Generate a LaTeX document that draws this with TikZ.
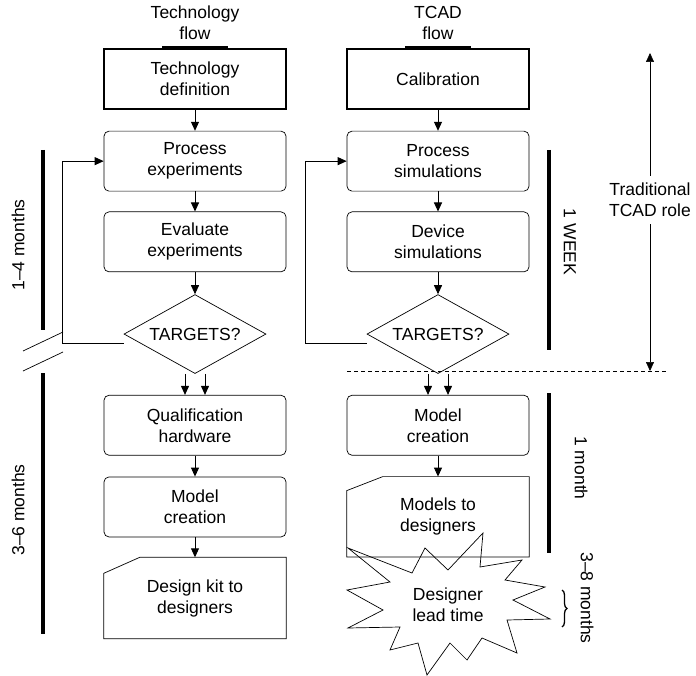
\documentclass[tikz,border=0pt]{standalone}
\usepackage{fontspec}
\setmainfont{Liberation Sans}
\usetikzlibrary{arrows.meta,positioning,shapes.geometric,decorations.pathreplacing}
\tikzset{
  stepbox/.style={draw,rounded corners=5pt,line width=.7pt,minimum width=182pt,
              minimum height=60pt,inner sep=2pt,align=center},
  startbox/.style={draw,line width=1.6pt,minimum width=182pt,minimum height=60pt,
              inner sep=2pt,align=center},
  decide/.style={draw,diamond,aspect=1.8,line width=.7pt,minimum width=142pt,
              minimum height=79pt,inner sep=0pt},
  cardbox/.style={minimum width=182pt,inner sep=2pt,align=center},
  flowarrow/.style={-{Triangle[length=9pt,width=8pt]},line width=.9pt},
  timebar/.style={line width=3.6pt},
  titlebar/.style={line width=3pt},
  thinline/.style={line width=.7pt},
}

\begin{document}
\begin{tikzpicture}[x=1pt,y=-1pt,font=\fontsize{17.5}{21}\selectfont,node distance=21pt]
  \fill[white] (0,0) rectangle (696,676);
  \useasboundingbox (0,0) rectangle (696,676);

  % technology flow
  \node[align=center] (ttech) at (195,23) {Technology\\flow};
  \node[startbox] (deftech) at (195,79) {Technology\\definition};
  \node[stepbox,below=of deftech] (proctech) {Process\\experiments};
  \node[stepbox,below=20pt of proctech] (evaltech) {Evaluate\\experiments};
  \node[decide,below=22pt of evaltech] (tgtech) {TARGETS?};
  \node[stepbox,below=of tgtech] (qualtech) {Qualification\\hardware};
  \node[stepbox,below=of qualtech] (modtech) {Model\\creation};
  \node[cardbox,minimum height=81pt,below=20pt of modtech] (kittech) {Design kit to\\designers};
  \draw[thinline] (kittech.south west) -- (kittech.south east) -- (kittech.north east)
    -- ([xshift=36pt]kittech.north west) -- ([yshift=-16pt]kittech.north west) -- cycle;
  \draw[titlebar] ([xshift=-33pt,yshift=1pt]deftech.north) -- ([xshift=33pt,yshift=1pt]deftech.north);

  % TCAD flow
  \node[align=center] (ttcad) at (438,23) {TCAD\\flow};
  \node[startbox] (calib) at (438,79) {Calibration};
  \node[stepbox,below=of calib] (procsim) {Process\\simulations};
  \node[stepbox,below=20pt of procsim] (devsim) {Device\\simulations};
  \node[decide,below=22pt of devsim] (tgtcad) {TARGETS?};
  \node[stepbox,below=of tgtcad] (modtcad) {Model\\creation};
  \node[cardbox,minimum height=80pt,below=of modtcad] (mtd) {Models to\\designers};
  \draw[thinline] (mtd.south west) -- (mtd.south east) -- (mtd.north east)
    -- ([xshift=36pt]mtd.north west) -- ([yshift=-14pt]mtd.north west) -- cycle;
  \draw[titlebar] ([xshift=-33pt,yshift=1pt]calib.north) -- ([xshift=33pt,yshift=1pt]calib.north);

  % arrows
  \draw[flowarrow] (deftech) -- (proctech);
  \draw[flowarrow] (proctech) -- (evaltech);
  \draw[flowarrow] (evaltech) -- (tgtech);
  \draw[flowarrow] ([xshift=-10pt]tgtech.south) -- ([xshift=-10pt]qualtech.north);
  \draw[flowarrow] ([xshift=10pt]tgtech.south) -- ([xshift=10pt]qualtech.north);
  \draw[flowarrow] (qualtech) -- (modtech);
  \draw[flowarrow] (modtech) -- (kittech);
  \draw[flowarrow] ([yshift=-9pt]tgtech.west) -| ([xshift=-41pt]proctech.west) -- (proctech.west);
  \draw[flowarrow] (calib) -- (procsim);
  \draw[flowarrow] (procsim) -- (devsim);
  \draw[flowarrow] (devsim) -- (tgtcad);
  \draw[flowarrow] ([xshift=-10pt]tgtcad.south) -- ([xshift=-10pt]modtcad.north);
  \draw[flowarrow] ([xshift=10pt]tgtcad.south) -- ([xshift=10pt]modtcad.north);
  \draw[flowarrow] (modtcad) -- (mtd);
  \draw[flowarrow] ([yshift=-9pt]tgtcad.west) -| ([xshift=-41pt]procsim.west) -- (procsim.west);

  % time scales
  \draw[timebar] (43,150) -- (43,330);
  \draw[timebar] (43,373) -- (43,634);
  \draw[thinline] (23,351) -- (63,332);
  \draw[thinline] (23,371) -- (63,352);
  \node[rotate=90] (t14) at (18,245) {1–4 months};
  \node[rotate=90] (t36) at (18,510) {3–6 months};
  \draw[timebar] (549,150) -- (549,350);
  \draw[timebar] (549,393) -- (549,553);
  \node[rotate=-90] (t1w) at (570,242) {1 WEEK};
  \node[rotate=-90] (t1m) at (581,468) {1 month};
  \node[rotate=-90] (t38) at (587,598) {3–8 months};
  \draw[decorate,decoration={brace,amplitude=5pt},line width=1.3pt] (562,590) -- (562,627);

  % traditional role
  \draw[thinline,dash pattern=on 4pt off 3pt] (347,371) -- (667,371);
  \node[align=center,outer sep=4pt] (role) at (650,200) {Traditional\\TCAD role};
  \coordinate (roletop) at (651,53);
  \coordinate (rolebot) at (651,371);
  \draw[flowarrow,line width=.6pt] (role.north) -- (role.north |- roletop);
  \draw[flowarrow,line width=.6pt] (role.south) -- (role.south |- rolebot);

  % designer lead time
  \draw[thinline] (348,548) -- (412,573) -- (425,548) -- (448,570) -- (483,533)
    -- (480,567) -- (522,560) -- (505,580) -- (545,587) -- (513,600) -- (550,619)
    -- (507,620) -- (517,653) -- (482,638) -- (467,660) -- (450,643) -- (427,675)
    -- (418,643) -- (390,650) -- (400,627) -- (348,628) -- (383,610) -- (347,590)
    -- (390,582) -- cycle;
  \node[align=center] (lead) at (448,605) {Designer\\lead time};
\end{tikzpicture}
\end{document}
